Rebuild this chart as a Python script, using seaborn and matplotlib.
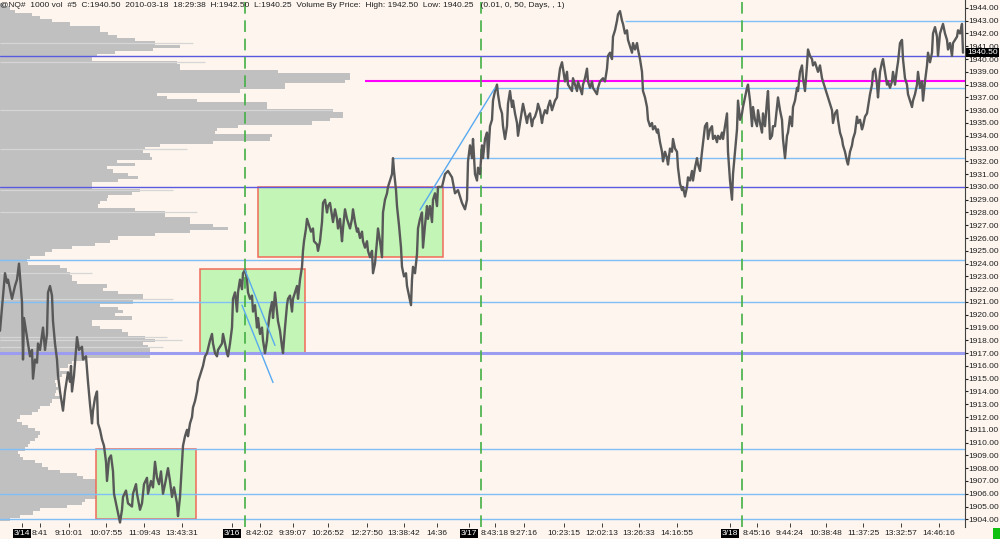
import numpy as np
import pandas as pd
import matplotlib
matplotlib.use('Agg')
import matplotlib.pyplot as plt
import matplotlib.transforms as mtransforms
from matplotlib.patches import Rectangle
import seaborn as sns

# ---- price path (bar number, price) ----
bar_x = [0, 5, 7, 8, 12, 15, 17, 19, 22, 23, 24, 26, 28, 30, 32, 33, 35, 37, 38, 40,
         43, 45, 47, 48, 50, 52, 53, 55, 57, 58, 60, 62, 63, 65, 67, 68, 70, 71, 72, 74,
         76, 77, 79, 82, 83, 86, 87, 88, 90, 92, 93, 95, 97, 98, 100, 102, 104, 106, 107, 109,
         111, 113, 114, 116, 118, 120, 122, 123, 126, 128, 132, 133, 136, 137, 140, 142, 144, 147, 148, 151,
         153, 155, 157, 159, 161, 163, 165, 168, 170, 172, 174, 177, 178, 180, 182, 183, 185, 187, 188, 190,
         192, 193, 195, 197, 198, 200, 203, 205, 207, 210, 212, 213, 215, 217, 218, 222, 223, 227, 228, 230,
         232, 233, 235, 237, 238, 240, 242, 243, 245, 247, 248, 250, 252, 253, 255, 257, 258, 260, 262, 263,
         265, 267, 268, 270, 272, 273, 275, 277, 278, 280, 282, 283, 285, 287, 288, 290, 292, 293, 295, 297,
         298, 300, 302, 303, 304, 306, 307, 309, 311, 313, 314, 317, 318, 320, 322, 323, 325, 327, 328, 330,
         332, 333, 335, 337, 338, 340, 342, 343, 345, 347, 348, 350, 352, 353, 355, 357, 358, 360, 362, 363,
         365, 367, 368, 370, 372, 373, 375, 377, 378, 380, 382, 383, 385, 387, 388, 390, 392, 393, 394, 396,
         397, 399, 401, 402, 404, 406, 407, 409, 411, 412, 413, 415, 417, 418, 420, 422, 423, 425, 427, 428,
         430, 432, 433, 435, 437, 438, 442, 445, 448, 452, 455, 458, 462, 465, 467, 468, 470, 472, 473, 475,
         477, 478, 480, 482, 483, 485, 487, 488, 490, 492, 493, 495, 497, 498, 500, 502, 503, 505, 507, 508,
         510, 512, 513, 515, 517, 518, 520, 522, 523, 525, 527, 528, 530, 532, 533, 535, 537, 538, 540, 542,
         543, 545, 547, 548, 550, 552, 553, 555, 557, 558, 560, 562, 563, 565, 567, 568, 570, 572, 573, 575,
         577, 578, 580, 582, 583, 585, 587, 588, 590, 592, 593, 595, 597, 598, 600, 603, 605, 607, 608, 610,
         612, 613, 615, 617, 618, 620, 622, 623, 625, 627, 628, 630, 632, 633, 635, 637, 638, 640, 642, 643,
         645, 647, 648, 650, 652, 653, 655, 657, 658, 660, 662, 663, 665, 667, 668, 670, 672, 673, 675, 677,
         678, 680, 682, 683, 685, 687, 688, 690, 692, 693, 695, 697, 698, 700, 702, 705, 707, 708, 710, 712,
         713, 715, 717, 718, 720, 722, 723, 725, 727, 728, 730, 732, 733, 735, 737, 738, 740, 742, 743, 745,
         747, 748, 750, 752, 753, 755, 757, 758, 760, 762, 763, 765, 767, 768, 770, 772, 773, 775, 777, 778,
         780, 782, 783, 785, 787, 788, 790, 792, 793, 795, 797, 798, 800, 802, 803, 805, 807, 808, 810, 812,
         813, 815, 817, 818, 820, 822, 823, 825, 827, 828, 830, 832, 833, 835, 837, 838, 840, 842, 843, 845,
         847, 848, 850, 852, 853, 855, 857, 858, 860, 862, 863, 865, 867, 868, 870, 872, 873, 875, 877, 878,
         880, 882, 883, 885, 887, 888, 890, 892, 893, 895, 897, 898, 900, 902, 903, 905, 907, 908, 910, 912,
         913, 915, 917, 918, 920, 922, 923, 925, 927, 928, 930, 932, 933, 935, 937, 938, 940, 942, 943, 945,
         947, 948, 950, 952, 953, 955, 957, 958, 960, 962, 963]
price = [1918.75, 1923.25, 1922.5, 1922.75, 1921.25, 1922.25, 1922.75, 1924.0, 1921.0, 1916.5,
         1919.75, 1918.75, 1917.75, 1916.75, 1917.25, 1915.0, 1916.5, 1916.25, 1917.75, 1917.25,
         1919.0, 1917.25, 1918.5, 1921.75, 1922.25, 1921.5, 1919.5, 1917.75, 1916.5, 1915.25,
         1914.0, 1913.0, 1912.5, 1914.0, 1915.0, 1915.5, 1914.75, 1916.0, 1914.0, 1915.25,
         1917.25, 1918.25, 1917.25, 1917.5, 1916.5, 1916.75, 1915.75, 1914.75, 1913.0, 1911.5,
         1912.5, 1913.5, 1914.0, 1911.5, 1911.0, 1910.25, 1909.75, 1908.5, 1907.0, 1908.75,
         1909.0, 1907.75, 1906.0, 1905.25, 1904.5, 1903.75, 1904.75, 1905.75, 1906.25, 1905.25,
         1905.0, 1906.0, 1906.75, 1906.0, 1904.75, 1905.25, 1906.75, 1907.25, 1906.0, 1907.0,
         1906.5, 1908.5, 1907.25, 1906.75, 1907.75, 1906.0, 1906.75, 1908.0, 1907.0, 1905.75,
         1906.5, 1905.25, 1904.25, 1905.75, 1908.5, 1909.75, 1910.5, 1911.0, 1910.5, 1911.5,
         1912.0, 1912.75, 1913.25, 1914.0, 1914.75, 1915.25, 1916.0, 1916.75, 1917.0, 1918.0,
         1918.5, 1917.75, 1917.0, 1916.75, 1917.25, 1917.75, 1918.5, 1917.0, 1916.75, 1917.75,
         1919.0, 1921.25, 1921.75, 1920.25, 1921.75, 1922.75, 1922.0, 1923.25, 1923.5, 1922.75,
         1921.75, 1921.25, 1921.5, 1920.25, 1920.75, 1919.0, 1919.75, 1918.5, 1919.0, 1918.0,
         1917.0, 1918.0, 1919.0, 1920.25, 1921.0, 1919.75, 1921.75, 1920.25, 1919.5, 1918.75,
         1917.5, 1917.0, 1919.0, 1920.75, 1921.25, 1921.5, 1920.25, 1921.25, 1921.75, 1922.25,
         1921.25, 1922.75, 1923.75, 1925.0, 1925.75, 1926.75, 1927.5, 1927.0, 1926.5, 1926.75,
         1925.75, 1925.5, 1925.0, 1925.75, 1927.25, 1928.75, 1929.0, 1928.0, 1928.5, 1928.75,
         1927.75, 1927.25, 1928.25, 1927.5, 1926.75, 1927.5, 1925.75, 1926.75, 1928.25, 1927.5,
         1927.25, 1926.75, 1927.5, 1928.25, 1927.25, 1926.5, 1926.75, 1926.0, 1926.5, 1925.75,
         1925.25, 1925.75, 1925.0, 1924.5, 1925.0, 1923.25, 1924.0, 1925.75, 1926.75, 1925.75,
         1924.5, 1928.0, 1929.0, 1929.5, 1930.0, 1930.5, 1931.0, 1932.25, 1931.25, 1929.75,
         1928.5, 1927.0, 1925.25, 1923.75, 1923.0, 1923.25, 1922.25, 1921.5, 1920.75, 1922.75,
         1923.75, 1923.25, 1924.75, 1926.75, 1927.5, 1928.0, 1925.25, 1927.0, 1928.5, 1927.5,
         1928.5, 1927.25, 1929.0, 1929.5, 1928.5, 1930.0, 1930.0, 1931.0, 1931.25, 1930.75,
         1929.5, 1929.75, 1928.75, 1928.25, 1929.0, 1932.0, 1933.25, 1932.25, 1933.75, 1931.0,
         1930.5, 1931.5, 1931.0, 1933.25, 1932.25, 1933.75, 1934.25, 1932.25, 1934.75, 1935.25,
         1936.75, 1937.5, 1938.0, 1937.25, 1936.25, 1935.75, 1934.75, 1933.75, 1934.75, 1936.5,
         1937.5, 1936.25, 1936.75, 1935.75, 1935.0, 1934.0, 1935.0, 1936.0, 1936.5, 1935.75,
         1935.0, 1935.5, 1935.75, 1934.75, 1935.25, 1935.5, 1936.0, 1936.5, 1936.0, 1935.0,
         1935.5, 1936.0, 1935.75, 1936.25, 1936.75, 1936.0, 1936.25, 1936.75, 1937.0, 1938.0,
         1939.25, 1939.75, 1939.25, 1938.25, 1939.0, 1938.0, 1937.75, 1937.5, 1938.5, 1938.0,
         1937.5, 1938.25, 1937.75, 1937.25, 1938.0, 1938.5, 1939.25, 1938.25, 1937.75, 1938.25,
         1937.75, 1937.5, 1937.25, 1937.75, 1938.25, 1938.5, 1938.25, 1939.25, 1940.25, 1940.5,
         1940.0, 1941.75, 1942.25, 1943.0, 1943.5, 1943.75, 1943.0, 1942.75, 1942.0, 1942.25,
         1941.5, 1941.0, 1940.5, 1941.25, 1940.75, 1941.25, 1940.75, 1940.0, 1939.0, 1937.5,
         1937.0, 1936.25, 1935.25, 1934.75, 1935.0, 1934.5, 1934.75, 1934.25, 1934.5, 1933.5,
         1932.75, 1932.0, 1932.75, 1932.25, 1931.75, 1933.0, 1932.75, 1933.75, 1933.0, 1932.75,
         1931.5, 1930.25, 1929.75, 1930.0, 1929.25, 1930.0, 1930.75, 1930.5, 1931.25, 1930.5,
         1931.5, 1932.25, 1931.75, 1931.25, 1932.75, 1934.75, 1935.0, 1933.75, 1934.5, 1934.75,
         1933.75, 1934.0, 1933.5, 1934.0, 1933.75, 1934.25, 1933.75, 1934.75, 1935.75, 1932.75,
         1930.5, 1929.0, 1931.0, 1932.75, 1934.5, 1936.75, 1935.25, 1935.75, 1936.25, 1937.0,
         1937.75, 1938.0, 1936.75, 1934.75, 1936.25, 1935.25, 1934.75, 1936.0, 1935.0, 1934.25,
         1935.75, 1934.75, 1936.75, 1937.5, 1933.75, 1934.0, 1934.75, 1934.75, 1936.25, 1937.0,
         1936.0, 1935.25, 1933.75, 1932.25, 1934.0, 1934.25, 1935.5, 1934.75, 1936.25, 1936.75,
         1937.75, 1937.5, 1939.0, 1939.5, 1938.5, 1937.5, 1939.5, 1940.75, 1940.25, 1940.0,
         1939.5, 1939.75, 1939.25, 1939.0, 1939.5, 1938.5, 1938.25, 1937.75, 1937.25, 1937.0,
         1936.5, 1936.0, 1935.0, 1935.75, 1936.0, 1935.25, 1934.25, 1933.75, 1933.25, 1932.75,
         1932.0, 1931.75, 1932.75, 1933.25, 1933.75, 1934.25, 1935.5, 1935.0, 1935.25, 1934.5,
         1934.75, 1935.5, 1935.75, 1936.25, 1937.25, 1938.0, 1939.0, 1939.25, 1938.0, 1937.0,
         1939.0, 1939.75, 1940.0, 1939.0, 1938.0, 1938.25, 1937.75, 1938.25, 1939.0, 1938.0,
         1939.25, 1939.75, 1941.25, 1941.5, 1940.0, 1938.5, 1938.0, 1937.25, 1936.75, 1936.25,
         1936.75, 1937.25, 1938.0, 1939.0, 1937.75, 1938.25, 1936.75, 1938.25, 1939.5, 1940.5,
         1939.75, 1940.5, 1942.0, 1942.5, 1941.75, 1940.25, 1942.0, 1942.5, 1942.75, 1942.0,
         1941.5, 1940.75, 1941.25, 1940.25, 1941.25, 1941.5, 1941.75, 1942.25, 1942.0, 1942.75,
         1940.5]

# ---- volume-by-price profile ----
vp_price = list(np.arange(1944.25, 1903.9, -0.25))
vp_volume = [4, 10, 15, 32, 40, 52, 70, 100, 100, 108, 117, 135, 155, 180, 153, 115, 97, 92,
             177, 180, 180, 278, 350, 350, 345, 285, 285, 240, 157, 167, 197, 267, 267, 333,
             343, 343, 330, 312, 238, 217, 215, 272, 270, 213, 160, 145, 143, 150, 152, 117,
             135, 107, 113, 128, 138, 118, 92, 92, 140, 132, 108, 107, 100, 98, 135, 165,
             165, 190, 190, 213, 228, 190, 155, 118, 110, 95, 72, 52, 45, 30, 27, 28,
             60, 67, 70, 72, 72, 77, 107, 103, 118, 143, 143, 133, 100, 118, 123, 115,
             132, 92, 92, 100, 122, 128, 145, 155, 143, 148, 150, 150, 150, 85, 72, 68,
             60, 67, 62, 58, 55, 56, 58, 56, 55, 60, 52, 50, 40, 38, 32, 20,
             17, 22, 28, 35, 40, 38, 35, 30, 28, 25, 18, 20, 23, 35, 42, 48,
             60, 77, 83, 97, 107, 120, 128, 110, 100, 85, 82, 67, 40, 33, 20, 10]
# faint extension marks beyond some profile rows
vp_tail_price = [1941.25, 1939.75, 1936.0, 1933.0, 1929.75, 1928.0, 1923.25,
                 1921.25, 1918.25, 1918.0, 1917.5]
vp_tail_volume = [193, 205, 332, 187, 173, 197, 92, 173, 167, 182, 163]

# ---- session markers and axis labels ----
session_breaks = [245, 481, 742]
tick_pos = [22, 40, 69, 106, 144, 182, 232, 260, 293, 328, 367, 404, 437, 469,
            495, 524, 564, 602, 639, 677, 730, 757, 790, 826, 863, 901, 939]
tick_labels = ['3/14', '8:41', '9:10:01', '10:07:55', '11:09:43', '13:43:31', '3/16',
               '8:42:02', '9:39:07', '10:26:52', '12:27:50', '13:38:42', '14:36', '3/17',
               '8:43:18', '9:27:16', '10:23:15', '12:02:13', '13:26:33', '14:16:55', '3/18',
               '8:45:16', '9:44:24', '10:38:48', '11:37:25', '13:32:57', '14:46:16']

# ---- drawn objects ----
full_lines = {1940.25: ('#5a5ae0', 1.0), 1930.0: ('#5a5ae0', 1.0), 1917.0: ('#9c9cf0', 2.2),
              1924.25: ('#80bff5', 1.0), 1921.0: ('#80bff5', 1.0), 1909.5: ('#80bff5', 1.0),
              1906.0: ('#80bff5', 1.0), 1904.0: ('#80bff5', 1.0)}
part_lines = [(393, 1932.25, '#80bff5', 1.0), (497, 1937.75, '#80bff5', 1.0),
              (625, 1943.0, '#80bff5', 1.0), (365, 1938.25, '#ff00ff', 1.5)]
boxes = [(96, 196, 1904.0, 1909.5), (200, 305, 1917.0, 1923.6), (258, 443, 1924.5, 1930.0)]
trend_lines = [((245, 275), (1923.5, 1917.6)), ((242, 273), (1920.75, 1914.7)),
               ((420, 495), (1928.2, 1937.75))]

bg = '#fdf5ee'
fs = 6.0
sns.set_style('white')
plt.rcParams['font.family'] = ['Liberation Sans', 'DejaVu Sans']

fig = plt.figure(figsize=(10, 5.39), dpi=100, facecolor=bg)
ax_vp = fig.add_axes([0, 12 / 539, 0.965, 527 / 539])
ax = fig.add_axes([0, 12 / 539, 0.965, 527 / 539], sharey=ax_vp)
ax_vp.set_facecolor(bg)
ax.patch.set_visible(False)

ax_vp.hlines(vp_tail_price, 0, vp_tail_volume, color='#d6d6d6', lw=0.9)
ax_vp.barh(vp_price, vp_volume, height=0.25, left=0, color='#c0c0c0', linewidth=0)
ax_vp.set_xlim(0, 965)
ax_vp.axis('off')

for x0, x1, p0, p1 in boxes:
    ax.add_patch(Rectangle((x0, p0), x1 - x0, p1 - p0, facecolor='#c2f5b6',
                           edgecolor='#f06a5a', lw=1.1, zorder=1))

for p, (c, w) in full_lines.items():
    ax.axhline(p, color=c, lw=w, zorder=2)
for x0, p, c, w in part_lines:
    ax.hlines(p, x0, 965, color=c, lw=w, zorder=2)
for xs, ps in trend_lines:
    ax.plot(xs, ps, color='#5aaaf0', lw=1.0, zorder=4)
for xb in session_breaks:
    ax.axvline(xb, color='#45b045', lw=1.2, ls=(0, (7, 4)), zorder=2)

df = pd.DataFrame({'bar': bar_x, 'price': price})
sns.lineplot(data=df, x='bar', y='price', ax=ax, color='#585858', lw=1.7,
             estimator=None, sort=False, zorder=3)

ax.set_xlim(0, 965)
ax.set_ylim(1903.4, 1944.62)
ax.set_xlabel('')
ax.set_ylabel('')
for s in ['top', 'left', 'bottom']:
    ax.spines[s].set_visible(False)
ax.spines['right'].set_color('#404040')
ax.spines['right'].set_linewidth(0.8)

ax.yaxis.tick_right()
ax.set_yticks(np.arange(1904, 1945, 1.0))
ax.yaxis.set_major_formatter(matplotlib.ticker.FormatStrFormatter('%.2f'))
ax.tick_params(axis='y', right=True, direction='out', length=2, width=0.8, pad=0.5,
               labelsize=fs, colors='#202020')
ax.set_xticks(tick_pos)
ax.set_xticklabels(tick_labels)
ax.tick_params(axis='x', bottom=True, direction='in', length=3, width=0.6, pad=2,
               labelsize=fs, colors='#202020')
for lbl in ax.get_xticklabels():
    if '/' in lbl.get_text():
        lbl.set_color('white')
        lbl.set_bbox(dict(facecolor='black', edgecolor='none', pad=0.8))

trans = mtransforms.blended_transform_factory(ax.transAxes, ax.transData)
ax.text(1.002, 1940.5, '1940.50', transform=trans, ha='left', va='center',
        fontsize=fs, color='white',
        bbox=dict(facecolor='black', edgecolor='none', pad=0.8), zorder=6)

fig.text(0.0, 1 - 5.5 / 539,
         '@NQ#  1000 vol  #5  C:1940.50  2010-03-18  18:29:38  H:1942.50  L:1940.25  '
         'Volume By Price:  High: 1942.50  Low: 1940.25   (0.01, 0, 50, Days, , 1)',
         ha='left', va='center', fontsize=fs, color='#202020')
fig.patches.append(Rectangle((0.993, 0), 0.007, 0.02, transform=fig.transFigure,
                             facecolor='#10c010', edgecolor='none'))

fig.savefig('out.png', dpi=100, facecolor=bg)
